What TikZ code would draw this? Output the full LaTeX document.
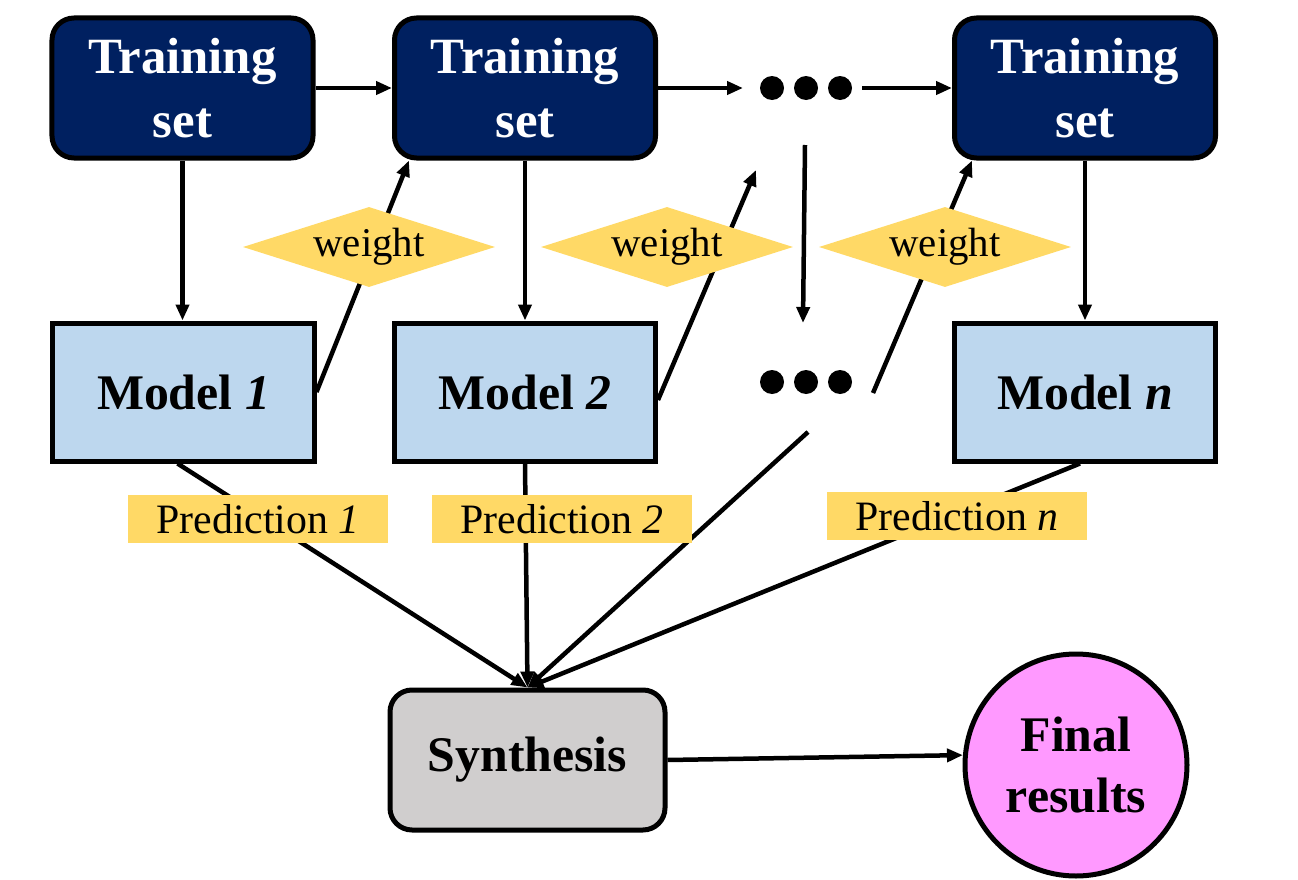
\documentclass[tikz,border=0pt]{standalone}
\usepackage{fontspec}
\setmainfont{Liberation Serif}
\usetikzlibrary{arrows.meta,shapes.geometric,calc}
\definecolor{navy}{HTML}{002060}
\definecolor{lblue}{HTML}{BDD7EE}
\definecolor{ylw}{HTML}{FFD966}
\definecolor{gry}{HTML}{D0CECE}
\definecolor{pnk}{HTML}{FF99FF}
\tikzset{
  tsbox/.style={draw=black,line width=5bp,fill=navy,rounded corners=22bp,minimum width=261bp,minimum height=140bp,text=white,font=\fontsize{51}{64}\selectfont\bfseries,align=center,inner sep=0pt},
  mbox/.style={draw=black,line width=5bp,fill=lblue,minimum width=261bp,minimum height=138bp,font=\fontsize{50}{62}\selectfont\bfseries,inner sep=0pt},
  wdia/.style={diamond,fill=ylw,aspect=3.15,minimum width=252bp,minimum height=80bp,inner sep=0pt,font=\fontsize{41}{48}\selectfont},
  plabel/.style={fill=ylw,minimum width=260bp,minimum height=48bp,inner sep=0pt,font=\fontsize{42}{48}\selectfont},
  dot/.style={circle,fill=black,minimum size=24bp,inner sep=0pt},
  arr/.style={line width=4.5bp,-{Triangle[length=16bp,width=13bp]}},
}
\begin{document}
\begin{tikzpicture}[x=1bp,y=-1bp]
\useasboundingbox (0,0) rectangle (1298,880);
% training sets
\node[tsbox] (ts1) at (182.5,88) {Training\\set};
\node[tsbox] (ts2) at (525,88) {Training\\set};
\node[tsbox] (ts3) at (1085,88) {Training\\set};
% models
\node[mbox] (m1) at (183.5,392) {Model \textit{1}};
\node[mbox] (m2) at (525,392) {Model \textit{2}};
\node[mbox] (m3) at (1085,392) {Model \textit{n}};
% dots
\node[dot] (dt1) at (772,88) {};
\node[dot] (dt2) at (806,88) {};
\node[dot] (dt3) at (840,88) {};
\node[dot] (dm1) at (772,382) {};
\node[dot] (dm2) at (806,382) {};
\node[dot] (dm3) at (840,382) {};
\coordinate (dtin) at (743,88);
\coordinate (dtout) at (862,88);
\coordinate (vtop) at (805,145);
\coordinate (vbot) at (803,323);
\coordinate (w2tip) at (756,170);
\coordinate (w3start) at (873,393);
\coordinate (dmout) at (808,432);
% synthesis & final
\node[draw=black,line width=5bp,fill=gry,rounded corners=22bp,minimum width=275bp,minimum height=140bp,font=\fontsize{50}{62}\selectfont\bfseries,inner sep=0pt] (syn) at (527.5,760) {Synthesis};
\node[circle,draw=black,line width=5bp,fill=pnk,minimum size=222bp,inner sep=0pt,align=center,font=\fontsize{50}{62}\selectfont\bfseries] (fin) at (1076,765) {Final\\results};
% arrows top
\draw[arr] (ts1.east) -- (ts2.west);
\draw[arr] (ts2.east) -- (dtin);
\draw[arr] (dtout) -- (ts3.west);
\draw[arr] (ts1.south) -- (m1.north -| ts1.south);
\draw[arr] (ts2.south) -- (m2.north);
\draw[arr] (ts3.south) -- (m3.north);
\draw[arr] (vtop) -- (vbot);
% weight arrows
\draw[arr] (m1.east) -- ([xshift=17bp]ts2.south west);
\draw[arr] ([yshift=-8bp]m2.east) -- (w2tip);
\draw[arr] (w3start) -- ([xshift=20bp]ts3.south west);
% prediction lines
\draw[arr] ([xshift=-6bp]m1.south) -- (syn.north);
\draw[arr] (m2.south) -- (syn.north);
\draw[arr] (dmout) -- (syn.north);
\draw[arr] ([xshift=-5bp]m3.south) -- (syn.north);
\draw[arr] (syn.east) -- (fin.175);
% labels on top
\node[wdia] (w1) at (369,247) {weight};
\node[wdia] (w2) at (667,247) {weight};
\node[wdia] (w3) at (945,247) {weight};
\node[plabel] (p1) at (258,519) {Prediction \textit{1}};
\node[plabel] (p2) at (562,519) {Prediction \textit{2}};
\node[plabel] (p3) at (957,516) {Prediction \textit{n}};
\end{tikzpicture}
\end{document}
